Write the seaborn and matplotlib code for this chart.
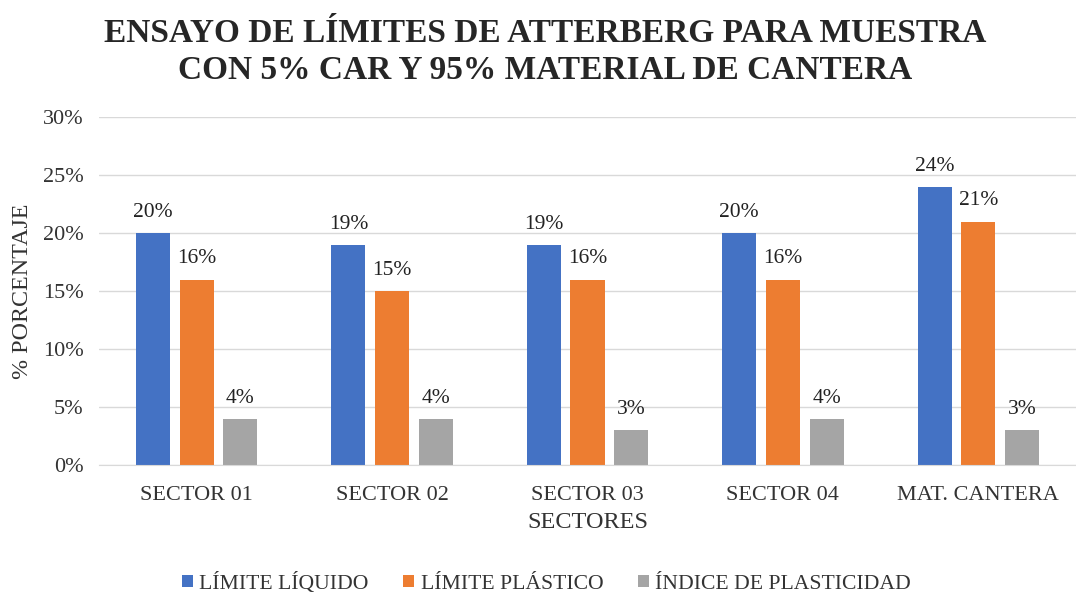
import matplotlib
matplotlib.use('Agg')
import matplotlib.pyplot as plt
import pandas as pd
import seaborn as sns

sectores = ['SECTOR 01', 'SECTOR 02', 'SECTOR 03', 'SECTOR 04', 'MAT. CANTERA']
limite_liquido = [20, 19, 19, 20, 24]
limite_plastico = [16, 15, 16, 16, 21]
indice_plasticidad = [4, 4, 3, 4, 3]
series = ['LÍMITE LÍQUIDO', 'LÍMITE PLÁSTICO', 'ÍNDICE DE PLASTICIDAD']
colores = ['#4472C4', '#ED7D31', '#A5A5A5']

df = pd.DataFrame({
    'sector': sectores * 3,
    'serie': [series[0]] * 5 + [series[1]] * 5 + [series[2]] * 5,
    'valor': limite_liquido + limite_plastico + indice_plasticidad,
})

sns.set_style('white')
plt.rcParams['font.family'] = ['Liberation Serif', 'DejaVu Serif']

fig = plt.figure(figsize=(10.76, 5.95), dpi=100)
ax = fig.add_axes([0.092, 0.2185, 0.908, 0.5845])

sns.barplot(data=df, x='sector', y='valor', hue='serie', palette=colores,
            saturation=1, linewidth=0, width=0.67, gap=0.22, ax=ax, legend=True)

for cont in ax.containers:
    ax.bar_label(cont, labels=[f'{v:.0f}%' for v in cont.datavalues],
                 padding=8, fontsize=15.5, color='#222222')

ax.set_ylim(0, 30)
ax.set_yticks(range(0, 31, 5))
ax.set_yticklabels([f'{v}%' for v in range(0, 31, 5)], fontsize=16, color='#333333')
ax.tick_params(axis='x', labelsize=16, colors='#333333', length=0, pad=15)
ax.tick_params(axis='y', length=0, pad=11)
ax.grid(axis='y', color='#D9D9D9', linewidth=1)
ax.set_axisbelow(True)
for s in ['top', 'right', 'left']:
    ax.spines[s].set_visible(False)
ax.spines['bottom'].set_color('#D9D9D9')

ax.set_xlabel('SECTORES', fontsize=17.5, color='#333333', labelpad=5)
ax.set_ylabel('% PORCENTAJE', fontsize=17.3, color='#333333', labelpad=7)

fig.suptitle('ENSAYO DE LÍMITES DE ATTERBERG PARA MUESTRA\nCON 5% CAR Y 95% MATERIAL DE CANTERA',
             fontsize=24, fontweight='bold', x=0.507, y=0.970, linespacing=1.25)

ax.legend(loc='center', bbox_to_anchor=(0.458, -0.34), ncol=3, frameon=False,
          fontsize=15.6, handlelength=0.5, handleheight=0.5, columnspacing=1.6,
          handletextpad=0.3, labelcolor='#333333')

plt.savefig('out.png', dpi=100)
plt.close()
